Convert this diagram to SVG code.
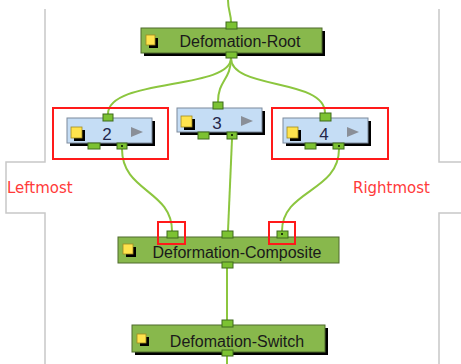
<svg xmlns="http://www.w3.org/2000/svg" width="461" height="364" viewBox="0 0 461 364">
<defs>
<style>
.frame{fill:none;stroke:#c8c8c8;stroke-width:1.5}
.wire{fill:none;stroke:#8cc63f;stroke-width:2}
.gbox{fill:#88b84c;stroke:#4f6b2c;stroke-width:1}
.bbox{fill:#c5ddf5;stroke:#7d8a9c;stroke-width:1}
.shadow{fill:#000}
.port{fill:#7cc232;stroke:#3f6a1c;stroke-width:1}
.dot{fill:#1f3a0c}
.icon{fill:#ffe34d;stroke:#a08a20;stroke-width:0.8}
.play{fill:#8a8f98}
.hl{fill:none;stroke:#ff1a1a;stroke-width:2}
.lbl{font-family:"Liberation Sans",Arial,sans-serif;font-size:16px;fill:#1a1a1a;text-anchor:middle}
.num{font-family:"Liberation Sans",Arial,sans-serif;font-size:17px;fill:#23264a;text-anchor:middle}
.side{font-family:"DejaVu Sans",sans-serif;font-size:15px;fill:#ff3a3a}
</style>
</defs>
<polyline class="frame" points="45,9 45,162 6,162 6,213 45,213 45,364"/>
<polyline class="frame" points="439,9 439,162 461,162"/>
<polyline class="frame" points="461,213 439,213 439,364"/>

<g id="connectors">
<path class="wire" d="M228,0 C228,10 231,14 231,22"/>
<path class="wire" d="M231,58 C231,90 108,78 108,114"/>
<path class="wire" d="M231,58 C231,80 218,80 218,102"/>
<path class="wire" d="M231,58 C231,90 325,78 325,113"/>
<path class="wire" d="M122,149 C122,192 172,190 172,231"/>
<path class="wire" d="M232,139 L228,231"/>
<path class="wire" d="M339,149 C339,192 282,190 282,231"/>
<path class="wire" d="M227,268 L227,320"/>
<path class="wire" d="M227,356 L227,364"/>
</g>

<g id="root">
<rect class="shadow" x="144" y="31" width="181" height="25"/>
<rect class="gbox" x="141" y="28" width="181" height="25"/>
<rect class="shadow" x="149" y="38" width="9" height="10"/>
<rect class="icon" x="146" y="35" width="9" height="10"/>
<text class="lbl" x="240" y="47">Defomation-Root</text>
<rect class="port" x="226" y="22" width="11" height="7"/>
<rect class="port" x="226" y="52" width="11" height="6"/>
</g>

<g id="node2">
<rect class="shadow" x="70" y="121" width="85" height="25"/>
<rect class="bbox" x="67" y="118" width="85" height="25"/>
<rect class="shadow" x="74" y="130" width="11" height="11"/>
<rect class="icon" x="71" y="127" width="11" height="11"/>
<text class="num" x="107" y="140">2</text>
<polygon class="play" points="131,127 143,132 131,137"/>
<rect class="port" x="103" y="114" width="10" height="7"/>
<rect class="port" x="88" y="143" width="12" height="6"/>
<rect class="port" x="117" y="143" width="10" height="6"/>
<rect class="dot" x="121" y="145" width="2" height="2"/>
<rect class="hl" x="53" y="108" width="115" height="51"/>
</g>

<g id="node3">
<rect class="shadow" x="180" y="111" width="85" height="24"/>
<rect class="bbox" x="177" y="108" width="85" height="24"/>
<rect class="shadow" x="184" y="119" width="11" height="11"/>
<rect class="icon" x="181" y="116" width="11" height="11"/>
<text class="num" x="217" y="129">3</text>
<polygon class="play" points="241,116 253,121 241,126"/>
<rect class="port" x="213" y="102" width="10" height="7"/>
<rect class="port" x="198" y="132" width="11" height="7"/>
<rect class="port" x="227" y="132" width="10" height="7"/>
<rect class="dot" x="231" y="134" width="2" height="2"/>
</g>

<g id="node4">
<rect class="shadow" x="286" y="121" width="85" height="25"/>
<rect class="bbox" x="283" y="118" width="85" height="25"/>
<rect class="shadow" x="290" y="130" width="11" height="11"/>
<rect class="icon" x="287" y="127" width="11" height="11"/>
<text class="num" x="324" y="140">4</text>
<polygon class="play" points="347,127 359,132 347,137"/>
<rect class="port" x="320" y="113" width="11" height="8"/>
<rect class="port" x="305" y="143" width="11" height="6"/>
<rect class="port" x="333" y="143" width="11" height="6"/>
<rect class="dot" x="338" y="145" width="2" height="2"/>
<rect class="hl" x="272" y="108" width="116" height="51"/>
</g>

<g id="composite">
<rect class="gbox" x="118" y="237" width="221" height="26"/>
<rect class="shadow" x="126" y="247" width="10" height="10"/>
<rect class="icon" x="123" y="244" width="10" height="10"/>
<text class="lbl" x="237" y="258">Deformation-Composite</text>
<rect class="port" x="167" y="231" width="11" height="7"/>
<rect class="port" x="222" y="231" width="11" height="7"/>
<rect class="port" x="277" y="231" width="11" height="7"/>
<rect class="dot" x="281" y="233" width="2" height="2"/>
<rect class="port" x="222" y="262" width="11" height="6"/>
<rect class="hl" x="158" y="222" width="27" height="22"/>
<rect class="hl" x="269" y="222" width="26" height="22"/>
</g>

<g id="switch">
<rect class="shadow" x="135" y="328" width="193" height="27"/>
<rect class="gbox" x="132" y="325" width="193" height="27"/>
<rect class="shadow" x="140" y="337" width="9" height="9"/>
<rect class="icon" x="137" y="334" width="9" height="9"/>
<text class="lbl" x="237" y="347">Defomation-Switch</text>
<rect class="port" x="222" y="320" width="11" height="7"/>
<rect class="port" x="222" y="350" width="11" height="6"/>
</g>

<g id="labels">
<text class="side" x="7" y="193">Leftmost</text>
<text class="side" x="353" y="193">Rightmost</text>
</g>
</svg>
